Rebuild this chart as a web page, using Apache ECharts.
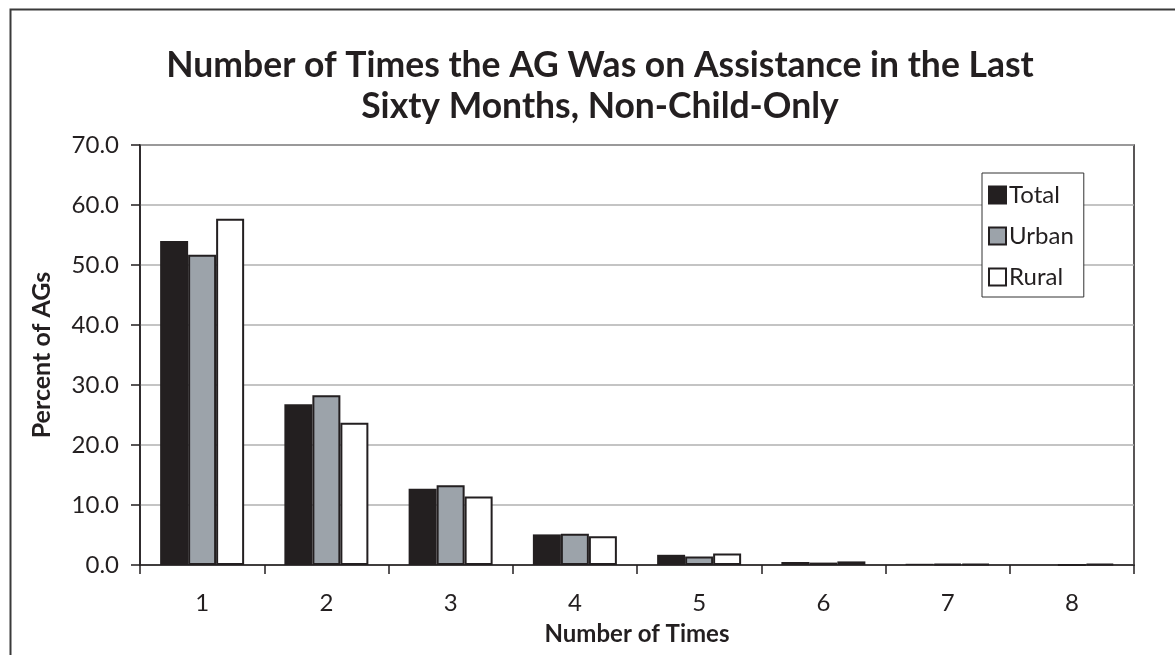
<!DOCTYPE html>
<html>
<head>
<meta charset="utf-8">
<script src="https://cdn.jsdelivr.net/npm/echarts@6/dist/echarts.min.js"></script>
<style>
html,body{margin:0;padding:0;background:#fff;}
#chart{width:1175px;height:655px;}
</style>
</head>
<body>
<div id="chart"></div>
<script>
const categories = ['1','2','3','4','5','6','7','8'];
const totalValues = [54.0, 26.8, 12.7, 5.1, 1.7, 0.5, 0.2, 0.0];
const urbanValues = [51.7, 28.3, 13.3, 5.2, 1.4, 0.4, 0.2, 0.0];
const ruralValues = [57.7, 23.7, 11.4, 4.8, 1.9, 0.6, 0.2, 0.2];
const seriesNames = ['Total', 'Urban', 'Rural'];
const titleText = 'Number of Times the AG Was on Assistance in the Last\nSixty Months, Non-Child-Only';
const xTitle = 'Number of Times';
const yTitle = 'Percent of AGs';

const FONT = 'Lato';
const DARK = '#231f20';
const chart = echarts.init(document.getElementById('chart'), null, {renderer: 'canvas'});

const seriesColors = [DARK, '#9ca3aa', '#ffffff'];
const seriesData = [totalValues, urbanValues, ruralValues];

chart.setOption({
  animation: false,
  backgroundColor: '#fff',
  title: {
    text: titleText,
    left: 595,
    top: 40,
    textAlign: 'center',
    textStyle: {fontFamily: FONT, fontWeight: 'bold', fontSize: 35.5, lineHeight: 41, color: DARK}
  },
  graphic: [{
    type: 'rect',
    left: 8, top: 7,
    shape: {x: 0, y: 0, width: 1200, height: 700},
    style: {fill: 'none', stroke: '#3a3a3a', lineWidth: 2},
    silent: true
  }],
  legend: {
    orient: 'vertical',
    left: 982, top: 173,
    width: 111,
    padding: [10, 10, 8, 6],
    backgroundColor: '#fff',
    borderColor: '#333',
    borderWidth: 1,
    itemWidth: 17, itemHeight: 17,
    itemGap: 17,
    icon: 'rect',
    itemStyle: {borderColor: DARK, borderWidth: 2},
    textStyle: {fontFamily: FONT, fontSize: 24, lineHeight: 20, color: DARK, padding: [0, 0, 0, -2]},
    data: seriesNames
  },
  grid: {
    left: 140, right: 41, top: 145, bottom: 90,
    show: true, borderColor: DARK, borderWidth: 1.5, backgroundColor: 'transparent'
  },
  xAxis: {
    type: 'category',
    data: categories,
    name: xTitle,
    nameLocation: 'middle',
    nameGap: 57,
    nameTextStyle: {fontFamily: FONT, fontWeight: 'bold', fontSize: 24, color: DARK},
    axisLine: {lineStyle: {color: DARK, width: 1.5}},
    axisTick: {show: true, length: 9, lineStyle: {color: DARK, width: 1.5}},
    axisLabel: {fontFamily: FONT, fontSize: 24, color: DARK, margin: 26}
  },
  yAxis: {
    type: 'value',
    min: 0, max: 70, interval: 10,
    name: yTitle,
    nameLocation: 'middle',
    nameGap: 86,
    nameTextStyle: {fontFamily: FONT, fontWeight: 'bold', fontSize: 25, color: DARK},
    axisLine: {show: true, lineStyle: {color: DARK, width: 1.5}},
    axisTick: {show: true, length: 9, lineStyle: {color: DARK, width: 1.5}},
    axisLabel: {fontFamily: FONT, fontSize: 24, color: DARK, margin: 21, formatter: v => v.toFixed(1)},
    splitLine: {show: true, lineStyle: {color: '#b0b0b0', width: 1.5}}
  },
  series: seriesNames.map((n, i) => ({
    name: n,
    type: 'bar',
    data: seriesData[i],
    barWidth: 28,
    barGap: '0%',
    itemStyle: {color: seriesColors[i], borderColor: DARK, borderWidth: i === 0 ? 0 : 2}
  }))
});
</script>
</body>
</html>
